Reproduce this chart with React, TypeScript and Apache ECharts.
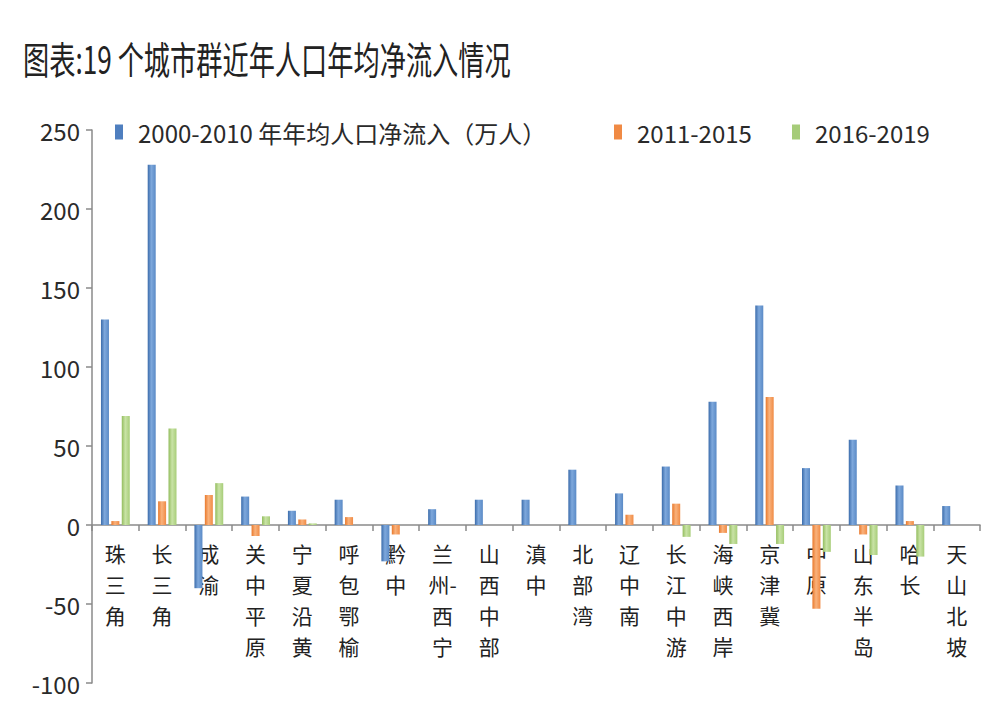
import React, { useEffect, useRef } from "react";
import * as echarts from "echarts";

const categories = ["珠三角", "长三角", "成渝", "关中平原", "宁夏沿黄", "呼包鄂榆", "黔中", "兰州-西宁", "山西中部", "滇中", "北部湾", "辽中南", "长江中游", "海峡西岸", "京津冀", "中原", "山东半岛", "哈长", "天山北坡"];
const seriesNames = ["2000-2010 年年均人口净流入（万人）", "2011-2015", "2016-2019"];
const s2000_2010 = [130, 228, -40, 18, 9, 16, -23, 10, 16, 16, 35, 20, 37, 78, 139, 36, 54, 25, 12];
const s2011_2015 = [2.5, 15, 19, -7, 3.5, 5, -6, null, null, null, null, 6.5, 13.5, -5, 81, -53, -6, 2.5, null];
const s2016_2019 = [69, 61, 26.5, 5.5, 1, null, null, null, null, null, null, null, -7.5, -12, -12, -17, -19, -20, null];
const yMin = -100;
const yMax = 250;
const yInterval = 50;
const titleText = "图表:19 个城市群近年人口年均净流入情况";

const FONT = "'Noto Sans CJK SC', 'Noto Sans', sans-serif";

const GRID_TOP = 130;
const GRID_BOTTOM = 44;
const CHART_H = 727;

function grad(c0: string, c1: string, c2: string) {
  return new echarts.graphic.LinearGradient(0, 0, 1, 0, [
    { offset: 0, color: c0 },
    { offset: 0.45, color: c1 },
    { offset: 1, color: c2 },
  ]);
}

function fmtLabel(name: string): string {
  const out: string[] = [];
  for (const ch of Array.from(name)) {
    if (ch === "-" && out.length) out[out.length - 1] += "-";
    else out.push(ch);
  }
  return out.join("\n");
}

export default function App() {
  const ref = useRef<HTMLDivElement>(null);
  useEffect(() => {
    if (!ref.current) return;
    const chart = echarts.init(ref.current, undefined, { renderer: "svg" });
    const colors = [
      grad("#3b6cab", "#7ea8dc", "#5a8ac6"),
      grad("#e9792c", "#f9b27c", "#f08b45"),
      grad("#93bd5e", "#c9e3a6", "#a7cd78"),
    ];
    const legendColors = ["#4f7fbf", "#f08a44", "#a6cc79"];
    const datas = [s2000_2010, s2011_2015, s2016_2019];
    const plotH = CHART_H - GRID_TOP - GRID_BOTTOM;
    const zeroOffset = -(plotH * (0 - yMin)) / (yMax - yMin);
    chart.setOption({
      animation: false,
      graphic: [
        {
          type: "text",
          x: 23,
          y: 38,
          scaleX: 0.69,
          style: {
            text: titleText,
            font: `38px ${FONT}`,
            fill: "#222",
            textVerticalAlign: "top",
          },
        },
      ],
      legend: [0, 1, 2].map((i) => ({
        data: [{ name: seriesNames[i], itemStyle: { color: legendColors[i] } }],
        left: [110, 609, 787][i],
        top: 115,
        itemWidth: 8,
        itemHeight: 15,
        icon: "rect",
        textStyle: { fontSize: 24, color: "#2a2a2a", fontFamily: FONT, padding: [0, 0, 0, 10] },
      })),
      grid: { left: 92, right: 28, top: GRID_TOP, bottom: GRID_BOTTOM, containLabel: false, outerBoundsMode: "none" },
      xAxis: {
        type: "category",
        data: categories,
        position: "bottom",
        offset: zeroOffset,
        axisLine: { onZero: false, lineStyle: { color: "#8a8a8a", width: 1.5 } },
        axisTick: { show: true, length: 6, inside: false, lineStyle: { color: "#8a8a8a", width: 1.5 } },
        axisLabel: {
          interval: 0,
          margin: 12,
          fontSize: 21,
          lineHeight: 31,
          color: "#222",
          fontFamily: FONT,
          formatter: (v: string) => fmtLabel(v),
          verticalAlign: "top",
        },
        splitLine: { show: false },
      },
      yAxis: {
        type: "value",
        min: yMin,
        max: yMax,
        interval: yInterval,
        axisLine: { show: true, lineStyle: { color: "#8a8a8a", width: 1.5 } },
        axisTick: { show: true, length: 6, lineStyle: { color: "#8a8a8a", width: 1.5 } },
        axisLabel: { margin: 12, fontSize: 24, color: "#2a2a2a", fontFamily: FONT },
        splitLine: { show: false },
      },
      series: [0, 1, 2].map((i) => ({
        name: seriesNames[i],
        type: "bar",
        data: datas[i],
        barWidth: 8,
        barGap: "30%",
        itemStyle: { color: colors[i] },
      })),
    });
    return () => chart.dispose();
  }, []);
  return <div ref={ref} style={{ width: 1008, height: 727, position: "absolute", left: 0, top: 0, background: "#fff" }} />;
}
